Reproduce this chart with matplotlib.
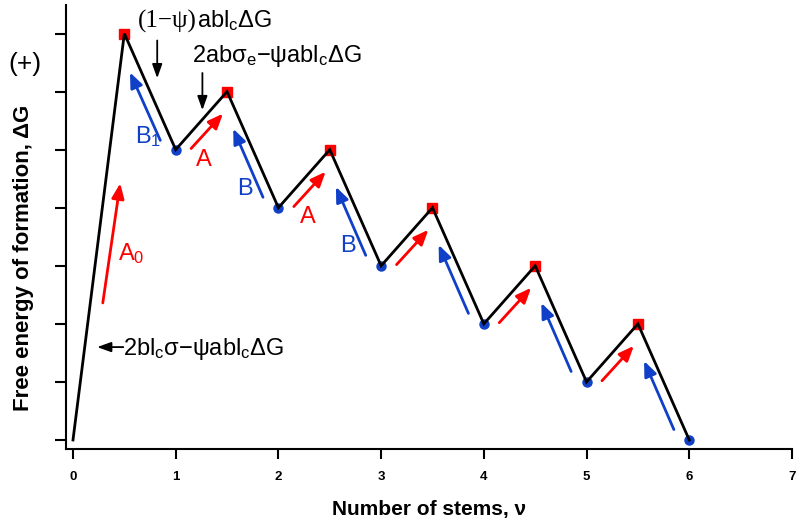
import numpy as np
import matplotlib
matplotlib.use("Agg")
import matplotlib.pyplot as plt

plt.rcParams['font.family'] = ['Liberation Sans', 'DejaVu Sans']
plt.rcParams['mathtext.fontset'] = 'custom'
plt.rcParams['mathtext.rm'] = 'Liberation Sans'
plt.rcParams['mathtext.it'] = 'Liberation Sans:italic'
plt.rcParams['mathtext.bf'] = 'Liberation Sans:bold'

# free energy path vs number of stems
nu = [0, 0.5, 1, 1.5, 2, 2.5, 3, 3.5, 4, 4.5, 5, 5.5, 6]
dG = [0, 7, 5, 6, 4, 5, 3, 4, 2, 3, 1, 2, 0]
peak_x = [0.5, 1.5, 2.5, 3.5, 4.5, 5.5]
peak_y = [7, 6, 5, 4, 3, 2]
valley_x = [1, 2, 3, 4, 5, 6]
valley_y = [5, 4, 3, 2, 1, 0]

# red (A) arrows: tail -> head
red_tail_x = [0.29, 1.15, 2.15, 3.15, 4.15, 5.15]
red_tail_y = [2.36, 5.02, 4.02, 3.02, 2.02, 1.02]
red_head_x = [0.46, 1.46, 2.46, 3.46, 4.46, 5.46]
red_head_y = [4.42, 5.62, 4.62, 3.62, 2.62, 1.62]
# blue (B) arrows: tail -> head
blue_tail_x = [0.85, 1.85, 2.85, 3.85, 4.85, 5.85]
blue_tail_y = [5.16, 4.18, 3.18, 2.18, 1.18, 0.18]
blue_head_x = [0.555, 1.56, 2.56, 3.56, 4.56, 5.56]
blue_head_y = [6.33, 5.36, 4.36, 3.36, 2.36, 1.36]

# step labels
lab_text = ['A$_0$', 'B$_1$', 'A', 'B', 'A', 'B']
lab_x = [0.44, 0.60, 1.20, 1.60, 2.21, 2.60]
lab_y = [3.10, 5.11, 4.72, 4.22, 3.73, 3.23]
lab_col = ['red', 'blue', 'red', 'blue', 'red', 'blue']

RED = '#ff0000'
BLUE = '#1040c8'
cmap = {'red': RED, 'blue': BLUE}

fig = plt.figure(figsize=(8, 5.23), dpi=100)
ax = fig.add_axes([0.0825, 0.1415, 0.9075, 0.8485])

ax.plot(peak_x, peak_y, 's', color=RED, ms=7, zorder=2)
ax.plot(valley_x, valley_y, 'o', color=BLUE, ms=6.5, zorder=2)
ax.plot(nu, dG, color='black', lw=2.0, zorder=3, solid_joinstyle='miter')

astyle = '-|>,head_length=0.6,head_width=0.25'
for x0, y0, x1, y1 in zip(red_tail_x, red_tail_y, red_head_x, red_head_y):
    ax.annotate('', xy=(x1, y1), xytext=(x0, y0),
                arrowprops=dict(arrowstyle=astyle, color=RED, lw=2,
                                shrinkA=0, shrinkB=0, mutation_scale=15))
for x0, y0, x1, y1 in zip(blue_tail_x, blue_tail_y, blue_head_x, blue_head_y):
    ax.annotate('', xy=(x1, y1), xytext=(x0, y0),
                arrowprops=dict(arrowstyle=astyle, color=BLUE, lw=2,
                                shrinkA=0, shrinkB=0, mutation_scale=15))

for s, x, y, c in zip(lab_text, lab_x, lab_y, lab_col):
    ax.text(x, y, s, color=cmap[c], fontsize=17, va='baseline', ha='left')

# black annotation arrows
kstyle = '-|>,head_length=0.7,head_width=0.25'
ax.annotate('', xy=(0.82, 6.23), xytext=(0.82, 6.88),
            arrowprops=dict(arrowstyle=kstyle, color='black', lw=1.3,
                            shrinkA=0, shrinkB=0, mutation_scale=12))
ax.annotate('', xy=(1.26, 5.68), xytext=(1.26, 6.32),
            arrowprops=dict(arrowstyle=kstyle, color='black', lw=1.3,
                            shrinkA=0, shrinkB=0, mutation_scale=12))
ax.annotate('', xy=(0.235, 1.60), xytext=(0.49, 1.60),
            arrowprops=dict(arrowstyle=kstyle, color='black', lw=1.3,
                            shrinkA=0, shrinkB=0, mutation_scale=12))

ax.text(0.633, 7.11, '(1\u2212\u03c8)', family='Liberation Serif', fontsize=18,
        va='baseline', ha='left')
ax.text(1.207, 7.11, 'abl$_\\mathrm{c}$\u0394G',
        fontsize=17, va='baseline', ha='left')
ax.text(1.16, 6.51, '2ab\u03c3$_\\mathrm{e}$\u2212\u03c8abl$_\\mathrm{c}$\u0394G',
        fontsize=17, va='baseline', ha='left')
ax.text(0.49, 1.46, '2bl$_\\mathrm{c}$\u03c3\u2212\u03c8abl$_\\mathrm{c}$\u0394G',
        fontsize=17, va='baseline', ha='left')
ax.text(-0.47, 6.47, '(+)', fontsize=19, va='center', ha='center')

ax.set_xlim(-0.068, 7.0)
ax.set_ylim(-0.155, 7.487)
ax.set_xticks(range(8))
ax.set_yticks(range(8))
ax.set_yticklabels([])
for lab in ax.get_xticklabels():
    lab.set_fontweight('bold')
ax.tick_params(axis='x', length=7, width=1.5, pad=9, labelsize=9.5)
ax.tick_params(axis='y', length=8, width=1.5)
for side in ['top', 'right']:
    ax.spines[side].set_visible(False)
for side in ['left', 'bottom']:
    ax.spines[side].set_linewidth(1.5)

ax.set_xlabel('Number of stems, \u03bd', fontsize=15, fontweight='bold', labelpad=12)
ax.text(-0.059, 0.43, 'Free energy of formation, \u0394G', transform=ax.transAxes,
        rotation=90, fontsize=16, fontweight='bold', ha='center', va='center')

fig.savefig('out.png', dpi=100)
